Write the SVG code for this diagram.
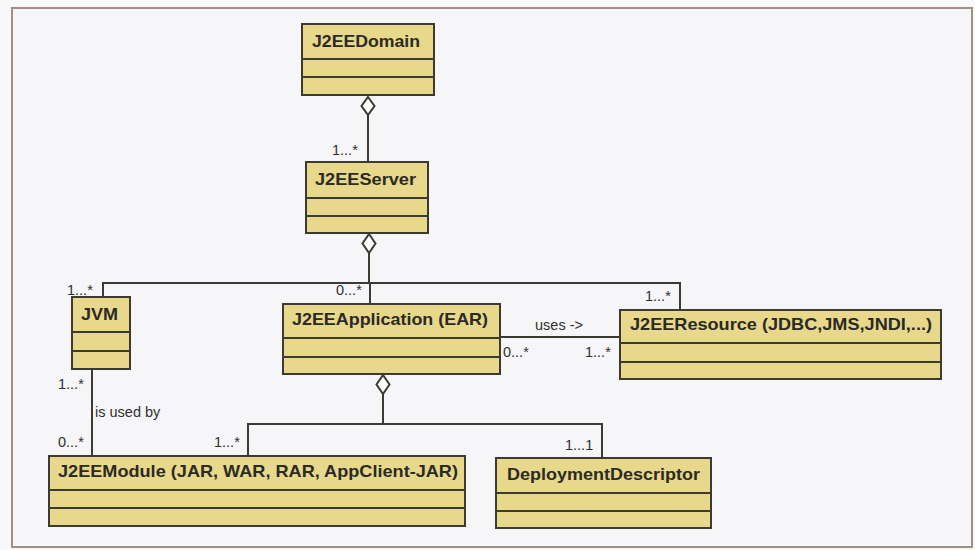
<svg xmlns="http://www.w3.org/2000/svg" width="975" height="550" viewBox="0 0 975 550">
  <style>
    .box { fill: #e7d88c; stroke: #3b3a33; stroke-width: 2; }
    .sep { stroke: #3b3a33; stroke-width: 2; fill: none; }
    .title { font-family: "Liberation Sans", Arial, sans-serif; font-weight: bold; font-size: 17px; fill: #2b2a24; }
    .lbl { font-family: "Liberation Sans", Arial, sans-serif; font-size: 14.5px; fill: #2f2f2f; }
    .conn { stroke: #3b3a33; stroke-width: 2; fill: none; }
    .dia { fill: #ffffff; stroke: #3b3a33; stroke-width: 2; }
  </style>
  <rect x="0" y="0" width="975" height="550" fill="#f8f8fa"/>
  <rect x="12" y="8" width="960" height="539" fill="#f6f6f8" stroke="#a09080" stroke-width="2"/>

  <g id="connectors">
    <polygon class="dia" points="368,97 374.5,106 368,115 361.5,106"/>
    <line class="conn" x1="368" y1="115" x2="368" y2="162"/>
    <polygon class="dia" points="369,234 375.5,243.5 369,253 362.5,243.5"/>
    <line class="conn" x1="369" y1="253" x2="369" y2="283"/>
    <polyline class="conn" points="103,297 103,283 680,283 680,310"/>
    <line class="conn" x1="370" y1="283" x2="370" y2="304"/>
    <line class="conn" x1="500" y1="337" x2="620" y2="337"/>
    <line class="conn" x1="92" y1="369" x2="92" y2="456"/>
    <polygon class="dia" points="383,375 389.5,384.5 383,394 376.5,384.5"/>
    <line class="conn" x1="383" y1="394" x2="383" y2="424"/>
    <polyline class="conn" points="248,456 248,424 602,424 602,458"/>
    <text class="lbl" x="332" y="155">1...*</text>
    <text class="lbl" x="67" y="295">1...*</text>
    <text class="lbl" x="336" y="295">0...*</text>
    <text class="lbl" x="645" y="301">1...*</text>
    <text class="lbl" x="535" y="330">uses -&gt;</text>
    <text class="lbl" x="503" y="357">0...*</text>
    <text class="lbl" x="585" y="357">1...*</text>
    <text class="lbl" x="58" y="389">1...*</text>
    <text class="lbl" x="95" y="417">is used by</text>
    <text class="lbl" x="58" y="447">0...*</text>
    <text class="lbl" x="214" y="447">1...*</text>
    <text class="lbl" x="565" y="450">1...1</text>
  </g>

  <g id="J2EEDomain">
    <rect class="box" x="302" y="24" width="132" height="71"/>
    <path class="sep" d="M302 59 H434 M302 77 H434"/>
    <text class="title" x="312" y="47" textLength="108" lengthAdjust="spacingAndGlyphs">J2EEDomain</text>
  </g>

  <g id="J2EEServer">
    <rect class="box" x="306" y="162" width="122" height="71"/>
    <path class="sep" d="M306 198 H428 M306 216 H428"/>
    <text class="title" x="315" y="185" textLength="101" lengthAdjust="spacingAndGlyphs">J2EEServer</text>
  </g>

  <g id="JVM">
    <rect class="box" x="72" y="297" width="58" height="72"/>
    <path class="sep" d="M72 332 H130 M72 351 H130"/>
    <text class="title" x="81" y="320" textLength="37" lengthAdjust="spacingAndGlyphs">JVM</text>
  </g>

  <g id="J2EEApplication">
    <rect class="box" x="283" y="304" width="217" height="70"/>
    <path class="sep" d="M283 338 H500 M283 357 H500"/>
    <text class="title" x="292" y="325" textLength="196" lengthAdjust="spacingAndGlyphs">J2EEApplication (EAR)</text>
  </g>

  <g id="J2EEResource">
    <rect class="box" x="620" y="310" width="321" height="69"/>
    <path class="sep" d="M620 343 H941 M620 362 H941"/>
    <text class="title" x="630" y="330" textLength="302" lengthAdjust="spacingAndGlyphs">J2EEResource (JDBC,JMS,JNDI,...)</text>
  </g>

  <g id="J2EEModule">
    <rect class="box" x="49" y="456" width="416" height="70"/>
    <path class="sep" d="M49 490 H465 M49 508 H465"/>
    <text class="title" x="58" y="477" textLength="400" lengthAdjust="spacingAndGlyphs">J2EEModule (JAR, WAR, RAR, AppClient-JAR)</text>
  </g>

  <g id="DeploymentDescriptor">
    <rect class="box" x="496" y="458" width="215" height="70"/>
    <path class="sep" d="M496 493 H711 M496 511 H711"/>
    <text class="title" x="507" y="480" textLength="193" lengthAdjust="spacingAndGlyphs">DeploymentDescriptor</text>
  </g>
</svg>
